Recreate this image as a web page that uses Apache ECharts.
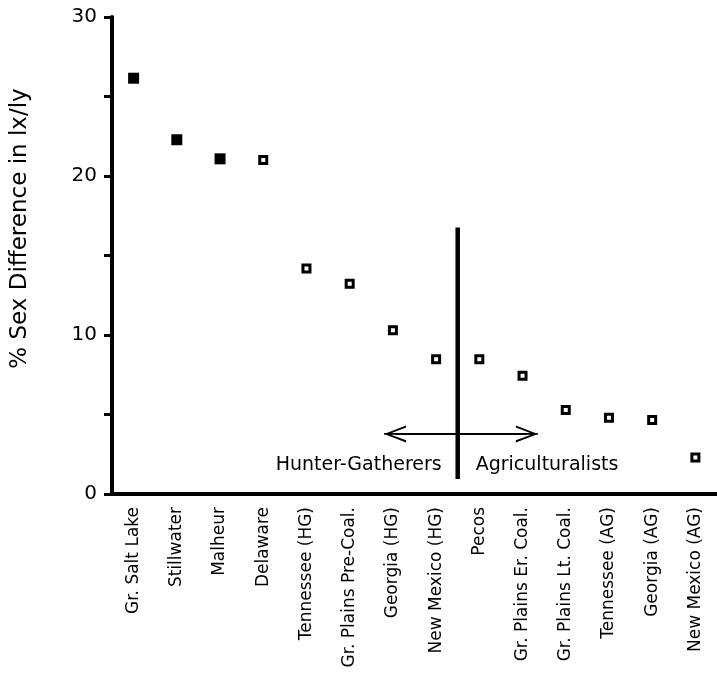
<!DOCTYPE html>
<html>
<head>
<meta charset="utf-8">
<script src="https://cdn.jsdelivr.net/npm/echarts@6/dist/echarts.min.js"></script>
<style>
  html, body { margin: 0; padding: 0; background: #fff; }
  #chart { width: 717px; height: 698px; }
</style>
</head>
<body>
<div id="chart"></div>
<script>
const categories = [
  'Gr. Salt Lake', 'Stillwater', 'Malheur', 'Delaware', 'Tennessee (HG)',
  'Gr. Plains Pre-Coal.', 'Georgia (HG)', 'New Mexico (HG)', 'Pecos',
  'Gr. Plains Er. Coal.', 'Gr. Plains Lt. Coal.', 'Tennessee (AG)',
  'Georgia (AG)', 'New Mexico (AG)'
];
const sexDiff = [26.15, 22.28, 21.08, 21.0, 14.18, 13.23, 10.3, 8.48, 8.48, 7.44, 5.29, 4.79, 4.66, 2.3];

// divider between the two groups (position on a 0..14 band scale) and the arrow
const dividerX = 8;
const dividerY = [0.95, 16.76];
const arrowX = [6.55, 9.6];
const arrowY = 3.78;
const groupLabelY = 1.83;
const groupNames = ['Hunter-Gatherers', 'Agriculturalists'];

const FONT = 'DejaVu Sans';
const nFilled = 3; // first sites drawn with solid squares
const chevron = 'path://M10,0 L20,16 L17.6,16 L10,3.6 L2.4,16 L0,16 Z M9,0 L11,0 L11,16 L9,16 Z';

const chart = echarts.init(document.getElementById('chart'));

const option = {
  backgroundColor: '#fff',
  animation: false,
  grid: { left: 112, top: 17, width: 605, height: 477 },
  xAxis: [
    {
      type: 'category',
      data: categories,
      axisLine: { lineStyle: { color: '#000', width: 4 } },
      axisTick: { alignWithLabel: true, length: 8, lineStyle: { color: '#000', width: 3 } },
      axisLabel: {
        rotate: 90, interval: 0, margin: 13,
        fontFamily: FONT, fontSize: 17, color: '#000'
      }
    },
    { type: 'value', min: 0, max: categories.length, show: false }
  ],
  yAxis: {
    type: 'value',
    min: 0, max: 30, interval: 10,
    name: '% Sex Difference in lx/ly',
    nameLocation: 'middle',
    nameGap: 80,
    nameTextStyle: { fontFamily: FONT, fontSize: 23, color: '#000', padding: [0, 0, 0, 54] },
    axisLine: { show: true, onZero: false, lineStyle: { color: '#000', width: 4 } },
    axisTick: { show: true, length: 8, lineStyle: { color: '#000', width: 3 } },
    minorTick: { show: true, splitNumber: 2, length: 8, lineStyle: { color: '#000', width: 3 } },
    splitLine: { show: false },
    axisLabel: { margin: 15, fontFamily: FONT, fontSize: 20, color: '#000' }
  },
  series: [
    {
      type: 'scatter',
      symbol: 'rect',
      data: sexDiff.map((v, i) => ({
        value: v,
        symbolSize: i < nFilled ? 11 : 7,
        itemStyle: i < nFilled
          ? { color: '#000', opacity: 1 }
          : { color: '#fff', borderColor: '#000', borderWidth: 3, opacity: 1 }
      }))
    },
    {
      type: 'line',
      xAxisIndex: 1,
      silent: true,
      showSymbol: false,
      lineStyle: { color: '#000', width: 4.5 },
      data: [[dividerX, dividerY[0]], [dividerX, dividerY[1]]],
      markLine: {
        silent: true,
        symbol: [chevron, chevron],
        symbolSize: [17, 22],
        label: { show: false },
        lineStyle: { color: '#000', width: 2, type: 'solid' },
        data: [[{ coord: [arrowX[0], arrowY] }, { coord: [arrowX[1], arrowY] }]]
      },
      markPoint: {
        silent: true,
        symbol: 'circle',
        symbolSize: 0,
        itemStyle: { color: 'rgba(0,0,0,0)' },
        label: { show: true, formatter: '{b}', fontFamily: FONT, fontSize: 19, color: '#000' },
        data: [
          { name: groupNames[0], coord: [dividerX, groupLabelY], label: { position: 'left', distance: 16 } },
          { name: groupNames[1], coord: [dividerX, groupLabelY], label: { position: 'right', distance: 18 } }
        ]
      }
    }
  ]
};

chart.setOption(option);

window.onresize = chart.resize;
</script>
</body>
</html>
